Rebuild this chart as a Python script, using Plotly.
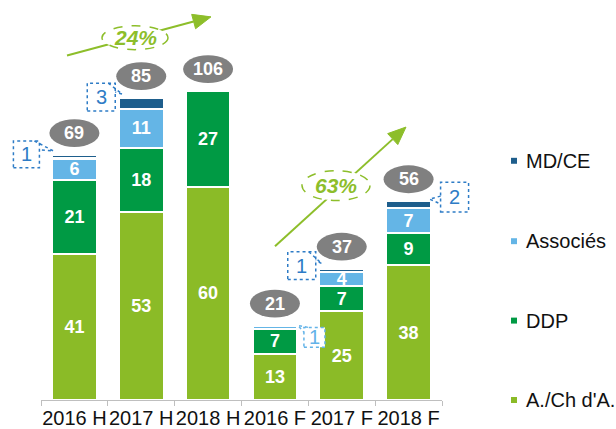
import plotly.graph_objects as go

# ---------------- data ----------------
categories = ["2016 H", "2017 H", "2018 H", "2016 F", "2017 F", "2018 F"]
ach = [41, 53, 60, 13, 25, 38]        # A./Ch d'A.
ddp = [21, 18, 27, 7, 7, 9]           # DDP
assoc = [6, 11, 0, 1, 4, 7]           # Associés
mdce = [1, 3, 0, 0, 1, 2]             # MD/CE
totals = [69, 85, 106, 21, 37, 56]
growth = ["24%", "63%"]
series_names = ["A./Ch d'A.", "DDP", "Associés", "MD/CE"]

# callouts: (bar index, label, colour key)
callouts = [(0, "1", "dark"), (1, "3", "dark"), (3, "1", "light"), (4, "1", "dark"), (5, "2", "dark")]

# ---------------- style ----------------
C_ACH = "#8BBB27"
C_DDP = "#009A44"
C_ASS = "#64B5E6"
C_MD = "#1E5E8C"
C_GRAY = "#808080"
C_ARROW = "#8DBE2A"
C_CALL = {"dark": "#2E7CC6", "light": "#63B3E8"}
FONT = "Arial, Liberation Sans, sans-serif"

W, H = 616, 429
ML, MR, MT, MB = 41, 174, 0, 26
PW, PH = W - ML - MR, H - MT - MB
YMAX = 112.6
CW = PW / len(categories)
K = PH / YMAX

def bx(i):
    return ML + CW * (i + 0.5)

def by(v):
    return MT + PH - v * K

def xp(px):
    return (px - ML) / PW

def yp(py):
    return (MT + PH - py) / PH

tops = [a + b + c + d for a, b, c, d in zip(ach, ddp, assoc, mdce)]

fig = go.Figure()

def lbl(vals):
    return [str(v) if v >= 3 else "" for v in vals]

for name, vals, col, show in [
    (series_names[0], ach, C_ACH, True),
    (series_names[1], ddp, C_DDP, True),
    (series_names[2], assoc, C_ASS, True),
    (series_names[3], mdce, C_MD, False),
]:
    fig.add_trace(go.Bar(
        x=categories, y=vals, name=name,
        marker=dict(color=col, line=dict(color="white", width=2.2)),
        text=lbl(vals) if show else None,
        textposition="inside", insidetextanchor="middle", textangle=0,
        constraintext="none",
        textfont=dict(family=FONT, size=18, color="white", weight="bold"),
        showlegend=False, hoverinfo="skip",
    ))

shapes = []
annotations = []

# totals in grey ellipses
for i, (t, top) in enumerate(zip(totals, tops)):
    cx, cy = bx(i), by(top) - 22
    shapes.append(dict(type="circle", xref="paper", yref="paper",
                       x0=xp(cx - 25), x1=xp(cx + 25), y0=yp(cy + 14), y1=yp(cy - 14),
                       fillcolor=C_GRAY, line=dict(width=0), layer="above"))
    annotations.append(dict(xref="paper", yref="paper", x=xp(cx), y=yp(cy), text=str(t),
                            showarrow=False, xanchor="center", yanchor="middle",
                            font=dict(family=FONT, size=18, color="white", weight="bold")))

# callout geometry relative to (bar centre, stack top), in px
geom = {
    0: ((-61, -14, -35, 13), [(-40, -14), (-21, -4), (-35, -5)]),
    1: ((-54, -15, -26, 13), [(-33, -15), (-19, -4), (-26, -6)]),
    3: ((29, 2, 50, 22), [(33, 2), (23, 0), (29, 7)]),
    4: ((-54, -17, -26, 11), [(-33, -17), (-20, -5), (-26, -8)]),
    5: ((32, -19, 60, 11), [(32, -5), (21, -2), (32, 3)]),
}
for i, txt, ck in callouts:
    (x0, y0, x1, y1), wedge = geom[i]
    cx, cy = bx(i), by(tops[i])
    col = C_CALL[ck]
    shapes.append(dict(type="rect", xref="paper", yref="paper",
                       x0=xp(cx + x0), x1=xp(cx + x1), y0=yp(cy + y1), y1=yp(cy + y0),
                       line=dict(color=col, width=1.5, dash="dot"), fillcolor="white", layer="above"))
    path = "M " + " L ".join(f"{xp(cx + dx):.5f},{yp(cy + dy):.5f}" for dx, dy in wedge)
    shapes.append(dict(type="path", xref="paper", yref="paper", path=path,
                       line=dict(color=col, width=1.5, dash="dot"), layer="above"))
    annotations.append(dict(xref="paper", yref="paper", x=xp(cx + (x0 + x1) / 2), y=yp(cy + (y0 + y1) / 2),
                            text=txt, showarrow=False, xanchor="center", yanchor="middle",
                            font=dict(family=FONT, size=20, color=col)))

# growth arrows (px geometry)
arrows = [
    ((67, 56), (211, 17), (102, 26, 168, 50), growth[0]),
    ((275, 248), (406, 128), (302, 172, 370, 202), growth[1]),
]
for (sx, sy), (tx, ty), (ex0, ey0, ex1, ey1), txt in arrows:
    dx, dy = tx - sx, ty - sy
    ln = (dx * dx + dy * dy) ** 0.5
    ux, uy = dx / ln, dy / ln
    nx, ny = -uy, ux
    hl, hw = 18, 7.5
    bxp, byp = tx - hl * ux, ty - hl * uy
    shapes.append(dict(type="line", xref="paper", yref="paper",
                       x0=xp(sx), y0=yp(sy), x1=xp(bxp), y1=yp(byp),
                       line=dict(color=C_ARROW, width=2), layer="above"))
    head = (f"M {xp(tx):.5f},{yp(ty):.5f} L {xp(bxp + hw * nx):.5f},{yp(byp + hw * ny):.5f} "
            f"L {xp(bxp - hw * nx):.5f},{yp(byp - hw * ny):.5f} Z")
    shapes.append(dict(type="path", xref="paper", yref="paper", path=head,
                       fillcolor=C_ARROW, line=dict(color=C_ARROW, width=1), layer="above"))
    shapes.append(dict(type="circle", xref="paper", yref="paper",
                       x0=xp(ex0), x1=xp(ex1), y0=yp(ey1), y1=yp(ey0),
                       fillcolor="white", line=dict(color=C_ARROW, width=1.5, dash="dash"), layer="above"))
    annotations.append(dict(xref="paper", yref="paper", x=xp((ex0 + ex1) / 2), y=yp((ey0 + ey1) / 2),
                            text=txt, showarrow=False, xanchor="center", yanchor="middle",
                            font=dict(family=FONT, size=21, color=C_ARROW, weight="bold", style="italic")))

# manual legend
legend_items = [("MD/CE", C_MD, 162), ("Associés", C_ASS, 243), ("DDP", C_DDP, 323), ("A./Ch d'A.", C_ACH, 403)]
for name, col, ly in legend_items:
    shapes.append(dict(type="rect", xref="paper", yref="paper",
                       x0=xp(511), x1=xp(517), y0=yp(ly + 3), y1=yp(ly - 3),
                       fillcolor=col, line=dict(width=0)))
    annotations.append(dict(xref="paper", yref="paper", x=xp(524), y=yp(ly), text=name,
                            showarrow=False, xanchor="left", yanchor="middle",
                            font=dict(family=FONT, size=20, color="#111111")))

fig.update_layout(
    width=W, height=H, barmode="stack", bargap=0.33,
    margin=dict(l=ML, r=MR, t=MT, b=MB),
    paper_bgcolor="white", plot_bgcolor="white",
    xaxis=dict(type="category", showline=True, linecolor="#BFBFBF", linewidth=1,
               ticks="outside", tickson="boundaries", ticklen=5, tickcolor="#BFBFBF",
               tickangle=0, showgrid=False, range=[-0.5, 5.5],
               tickfont=dict(family=FONT, size=20, color="#111111")),
    yaxis=dict(visible=False, range=[0, YMAX]),
    shapes=shapes, annotations=annotations, showlegend=False,
)

fig.write_html("out.html", config={"displayModeBar": False},
               post_script="document.body.style.margin='0';document.body.style.overflow='hidden';")
